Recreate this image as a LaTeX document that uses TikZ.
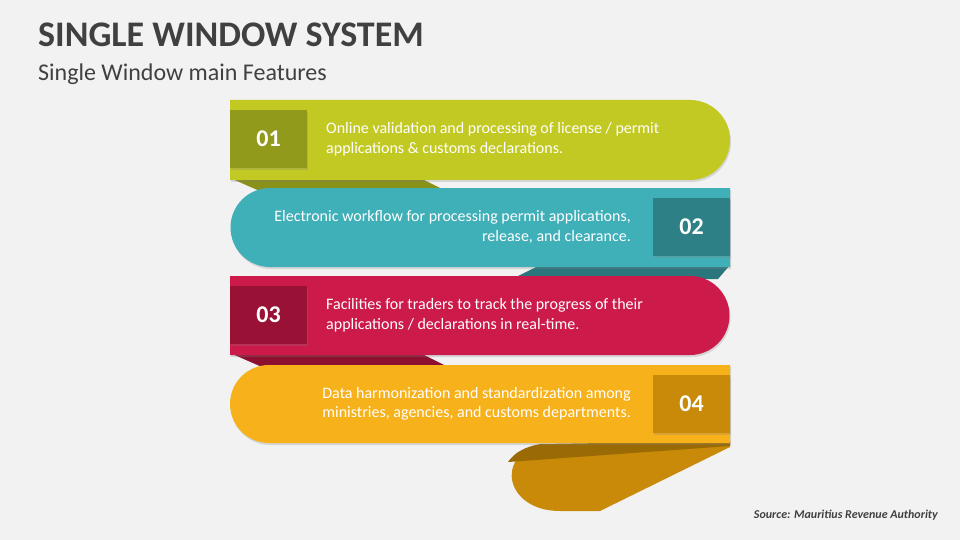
\documentclass[tikz,border=0pt]{standalone}
\usepackage{fontspec}
\setmainfont{Carlito}
\definecolor{bg}{HTML}{F2F2F2}
\definecolor{ttl}{HTML}{404040}
\definecolor{gA}{HTML}{C2C923}\definecolor{gB}{HTML}{929A1C}\definecolor{gC}{HTML}{8A9118}
\definecolor{tA}{HTML}{3FAFB8}\definecolor{tB}{HTML}{2E8087}\definecolor{tC}{HTML}{2A767C}
\definecolor{rA}{HTML}{CC1A4A}\definecolor{rB}{HTML}{991236}\definecolor{rC}{HTML}{8E1030}
\definecolor{yA}{HTML}{F7B11A}\definecolor{yB}{HTML}{C88A08}\definecolor{yC}{HTML}{9A6A05}
\usetikzlibrary{shadows}
\tikzset{
 badge/.style={minimum width=77pt,minimum height=58pt,inner sep=0pt,text=white,font=\bfseries\fontsize{24}{24}\selectfont},
 desc/.style={text=white,font=\fontsize{16}{19.5}\selectfont,inner sep=0pt},
 shad/.style={drop shadow={shadow xshift=1pt,shadow yshift=-2pt,opacity=.25}}
}
\begin{document}
\begin{tikzpicture}[x=1pt,y=-1pt]
\fill[bg] (0,0) rectangle (960,540);
\useasboundingbox (0,0) rectangle (960,540);
\node[anchor=west,text=ttl,font=\bfseries\fontsize{36}{36}\selectfont,inner sep=0pt] (title) at (38,35) {SINGLE WINDOW SYSTEM};
\node[anchor=west,text=ttl,font=\fontsize{24}{24}\selectfont,inner sep=0pt] (sub) at (38,74) {Single Window main Features};
% folds
\fill[gC] (230,178) -- (420,178) -- (448,192) -- (262,192) -- cycle;
\fill[tC] (730,265) -- (540,265) -- (512,279) -- (718,279) -- cycle;
\fill[rC] (230,353) -- (420,353) -- (448,367) -- (262,367) -- cycle;
% tail
\fill[yB] (730,441) -- (730,447) -- (600,511) -- (560,511) .. controls (505,511) and (495,455) .. (540,446) -- cycle;
\fill[yC] (540,444) -- (730,441) -- (730,446) -- (508,462) .. controls (515,452) and (525,447) .. (540,444) -- cycle;
% bands
\fill[gA,shad] (230,100) -- (690,100) arc[start angle=-90,end angle=90,radius=40] -- (230,180) -- cycle;
\fill[tA,shad] (730,188) -- (730,267) -- (270,267) arc[start angle=90,end angle=270,radius=39.5] -- cycle;
\fill[rA,shad] (230,276) -- (690,276) arc[start angle=-90,end angle=90,radius=39.5] -- (230,355) -- cycle;
\fill[yA,shad] (730,365) -- (730,443) -- (269,443) arc[start angle=90,end angle=270,radius=39] -- cycle;
% badges
\node[badge,fill=gB,shad] (b1) at (268.5,139) {01};
\node[badge,fill=tB,shad] (b2) at (691.5,227) {02};
\node[badge,fill=rB,shad] (b3) at (268.5,315) {03};
\node[badge,fill=yB,shad] (b4) at (691.5,404) {04};
\node[desc,anchor=west,align=left] (d1) at (326,139) {Online validation and processing of license / permit\\applications \& customs declarations.};
\node[desc,anchor=east,align=right] (d2) at (631,227) {Electronic workflow for processing permit applications,\\release, and clearance.};
\node[desc,anchor=west,align=left] (d3) at (326,315) {Facilities for traders to track the progress of their\\applications / declarations in real-time.};
\node[desc,anchor=east,align=left] (d4) at (631,404) {Data harmonization and standardization among\\ministries, agencies, and customs departments.};
\node[anchor=east,text=ttl,font=\bfseries\itshape\fontsize{12}{12}\selectfont,inner sep=0pt] (src) at (938,515) {Source: Mauritius Revenue Authority};
\end{tikzpicture}
\end{document}
